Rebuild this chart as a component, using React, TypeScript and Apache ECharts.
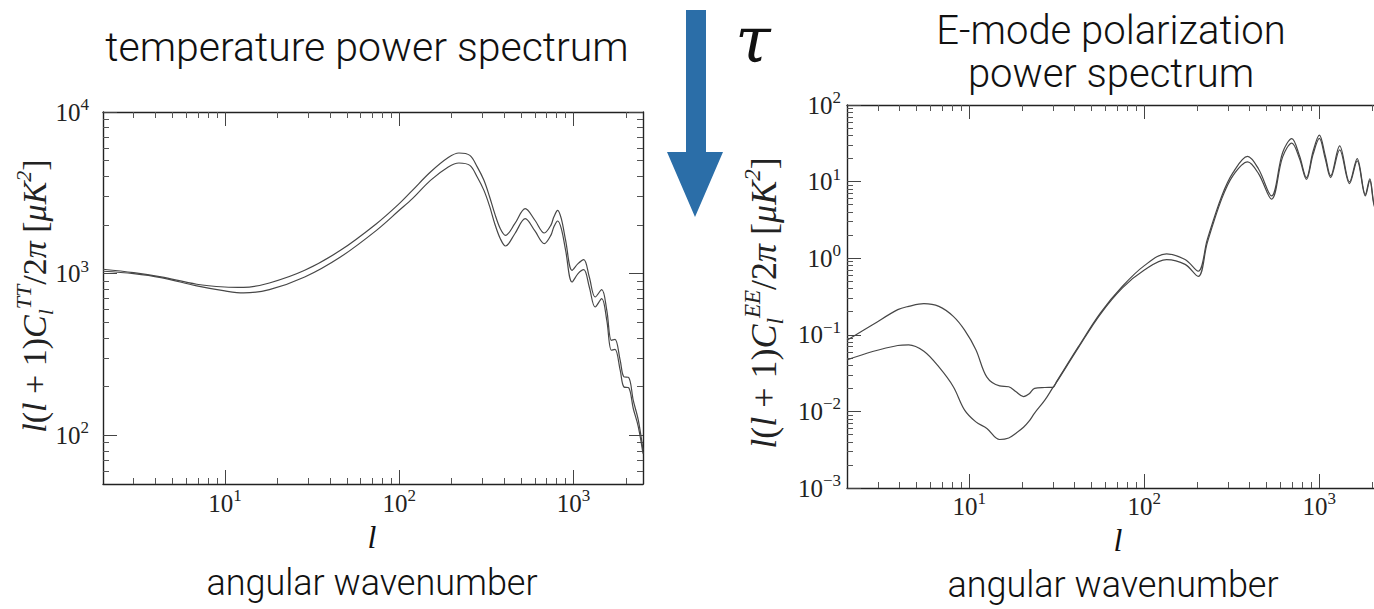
import React, { useEffect, useRef } from "react";
import * as echarts from "echarts";

// ---------- data ----------
const ttEll = [2, 3, 4.3, 6.9, 10, 12.8, 18, 28.7, 46, 74, 100, 119, 151, 191, 220, 254, 280, 306, 330, 353, 380, 407, 460, 528, 600, 679, 740, 770, 810, 850, 900, 980, 1060, 1143, 1230, 1330, 1449, 1550, 1647, 1727, 1850, 1944, 2067, 2200, 2350, 2500];
const ttHigh = [1065, 1015, 955, 860, 827, 822, 876, 1049, 1394, 2037, 2711, 3275, 4252, 5227, 5575, 5392, 4575, 3778, 2979, 2350, 1897, 1726, 2037, 2523, 2140, 1785, 1990, 2240, 2465, 2188, 1607, 1049, 1153, 1221, 953, 717, 796, 593, 387, 392, 291, 230, 228, 164, 124, 81];
const ttLow = [1035, 1000, 945, 840, 782, 760, 796, 953, 1267, 1853, 2465, 2910, 3778, 4575, 4838, 4677, 3963, 3275, 2607, 2037, 1644, 1483, 1766, 2188, 1837, 1535, 1726, 1944, 2118, 1900, 1394, 888, 1000, 1058, 827, 622, 700, 514, 336, 340, 253, 199, 197, 146, 113, 77];

const eeEll = [2, 2.8, 3.9, 4.5, 5.5, 6.7, 8.1, 9.4, 10.9, 12.6, 14.9, 16.8, 18.5, 20.4, 22, 23.6, 27, 30, 31.5, 42, 56, 75, 100, 134, 171, 203, 229, 277, 321, 389, 450, 533, 617, 696, 770, 844, 920, 1000, 1080, 1160, 1306, 1487, 1645, 1832, 1942, 2096, 2300, 2500];
const eeHigh = [0.085, 0.135, 0.213, 0.235, 0.255, 0.235, 0.174, 0.115, 0.064, 0.028, 0.0215, 0.021, 0.018, 0.0156, 0.017, 0.02, 0.0205, 0.0206, 0.0245, 0.07, 0.192, 0.43, 0.8, 1.14, 0.96, 0.676, 1.76, 6.5, 13.1, 21.3, 14.5, 6.5, 24, 36.5, 21.7, 11.3, 24.7, 40.5, 22, 11.9, 29.3, 9.9, 20, 6.8, 10.9, 4.6, 6, 2.5];
const eeLow = [0.047, 0.0605, 0.0725, 0.074, 0.061, 0.038, 0.021, 0.0104, 0.0073, 0.006, 0.0043, 0.0045, 0.0052, 0.0062, 0.0075, 0.0095, 0.014, 0.0204, 0.024, 0.068, 0.185, 0.41, 0.7, 0.96, 0.83, 0.58, 1.6, 6.0, 12.0, 18.1, 12.6, 5.9, 21, 31.8, 20, 10.7, 22.5, 36.6, 20, 11.3, 26, 9.4, 18.7, 6.5, 10.3, 4.4, 5.7, 2.4];

// ---------- ticks ----------
const ellMajor = [10, 100, 1000];
const ellMinor = [3, 4, 5, 6, 7, 8, 9, 20, 30, 40, 50, 60, 70, 80, 90, 200, 300, 400, 500, 600, 700, 800, 900, 2000];
const ttMajor = [100, 1000, 10000];
const ttMinor = [60, 70, 80, 90, 200, 300, 400, 500, 600, 700, 800, 900, 2000, 3000, 4000, 5000, 6000, 7000, 8000, 9000];
const eeMajor = [0.001, 0.01, 0.1, 1, 10, 100];
const eeMinor = [0.002, 0.003, 0.004, 0.005, 0.006, 0.007, 0.008, 0.009, 0.02, 0.03, 0.04, 0.05, 0.06, 0.07, 0.08, 0.09, 0.2, 0.3, 0.4, 0.5, 0.6, 0.7, 0.8, 0.9, 2, 3, 4, 5, 6, 7, 8, 9, 20, 30, 40, 50, 60, 70, 80, 90];

const SERIF = "'Liberation Serif', 'DejaVu Serif', serif";
const SANS = "Roboto, 'Liberation Sans', sans-serif";
const LINE = "#474747";

const labelRich = {
  b: { fontFamily: SERIF, fontSize: 25, lineHeight: 32, color: "#222" },
  s: { fontFamily: SERIF, fontSize: 17, lineHeight: 17, verticalAlign: "top", color: "#222" },
};

const powLabel = (v: number) => {
  const e = Math.round(Math.log10(v));
  return `{b|10}{s|${e < 0 ? "\u2212" + -e : e}}`;
};

function axisSet(dim: "x" | "y", gridIndex: number, min: number, max: number, majors: number[], minors: number[], margin: number) {
  const sides = dim === "x" ? ["bottom", "top"] : ["left", "right"];
  const out: any[] = [];
  sides.forEach((pos, si) => {
    const base = { type: "log", logBase: 10, gridIndex, min, max, position: pos, splitLine: { show: false }, silent: true };
    out.push({
      ...base,
      axisLine: { show: true, onZero: false, lineStyle: { color: "#222", width: 1.4 } },
      axisTick: { show: true, inside: true, length: 14, customValues: majors, lineStyle: { color: "#444", width: 1 } },
      axisLabel:
        si === 0
          ? { show: true, customValues: majors, formatter: powLabel, margin, fontFamily: SERIF, fontSize: 25, color: "#222", rich: labelRich }
          : { show: false },
    });
    out.push({
      ...base,
      axisLine: { show: false },
      axisTick: { show: true, inside: true, length: 6, customValues: minors, lineStyle: { color: "#555", width: 1 } },
      axisLabel: { show: false },
    });
  });
  return out;
}

const toPairs = (xs: number[], ys: number[]) => xs.map((x, i) => [x, ys[i]]);

function yTitle(x: number, y: number, sup: string, size: number) {
  const sub = Math.round(size * 0.64);
  return {
    type: "text",
    x,
    y,
    rotation: Math.PI / 2,
    style: {
      text: `{i|l}{r|(}{i|l}{r| + 1)}{i|C}{sb|l}{sp|${sup}}{r|/2}{i|\u03c0}{r| [}{i|\u03bcK}{sp|2}{r|]}`,
      align: "center",
      verticalAlign: "middle",
      rich: {
        i: { fontFamily: SERIF, fontStyle: "italic", fontSize: size, lineHeight: size + 10, fill: "#222" },
        r: { fontFamily: SERIF, fontSize: size, lineHeight: size + 10, fill: "#222" },
        sp: { fontFamily: SERIF, fontStyle: "italic", fontSize: sub, lineHeight: sub, verticalAlign: "top", fill: "#222" },
        sb: { fontFamily: SERIF, fontStyle: "italic", fontSize: sub, lineHeight: sub, verticalAlign: "bottom", fill: "#222" },
      },
    },
  };
}

function txt(x: number, y: number, text: string, font: string, extra: any = {}) {
  return { type: "text", x, y, style: { text, font, fill: "#111", align: "center", verticalAlign: "middle", ...extra } };
}

export default function App() {
  const ref = useRef<HTMLDivElement>(null);
  useEffect(() => {
    if (!ref.current) return;
    const chart = echarts.init(ref.current, undefined, { renderer: "svg" });
    const xAxis = [...axisSet("x", 0, 2, 2500, ellMajor, ellMinor, 3), ...axisSet("x", 1, 2, 2500, ellMajor, ellMinor, 2)];
    const yAxis = [...axisSet("y", 0, 50, 10000, ttMajor, ttMinor, 14), ...axisSet("y", 1, 0.001, 100, eeMajor, eeMinor, 6)];
    const line = (name: string, data: number[][], gi: number) => ({
      type: "line",
      name,
      xAxisIndex: gi * 4,
      yAxisIndex: gi * 4,
      data,
      smooth: 0.35,
      showSymbol: false,
      symbol: "none",
      lineStyle: { color: LINE, width: 1.2 },
      silent: true,
    });
    chart.setOption({
      animation: false,
      backgroundColor: "#ffffff",
      grid: [
        { left: 103, top: 112, width: 540, height: 372, containLabel: false, outerBoundsMode: "none" },
        { left: 847, top: 105, width: 542, height: 383, containLabel: false, outerBoundsMode: "none" },
      ],
      xAxis,
      yAxis,
      series: [
        line("TT high", toPairs(ttEll, ttHigh), 0),
        line("TT low", toPairs(ttEll, ttLow), 0),
        line("EE high", toPairs(eeEll, eeHigh), 1),
        line("EE low", toPairs(eeEll, eeLow), 1),
      ],
      graphic: [
        txt(367, 47, "temperature power spectrum", `300 41px ${SANS}`),
        txt(1111, 30, "E-mode polarization", `300 40px ${SANS}`),
        txt(1111, 73, "power spectrum", `300 40px ${SANS}`),
        txt(372, 583, "angular wavenumber", `300 36px ${SANS}`),
        txt(1113, 585, "angular wavenumber", `300 36px ${SANS}`),
        txt(372, 537, "l", `italic 32px ${SERIF}`),
        txt(1118, 540, "l", `italic 32px ${SERIF}`),
        txt(753, 40, "\u03c4", `italic 64px 'DejaVu Serif', serif`),
        {
          type: "polygon",
          shape: {
            points: [
              [686, 10],
              [706, 10],
              [706, 152],
              [723, 152],
              [695, 217],
              [667, 152],
              [686, 152],
            ],
          },
          style: { fill: "#2b6ea8" },
        },
        yTitle(34, 296, "TT", 34),
        yTitle(764, 303, "EE", 36),
      ],
    });
    return () => chart.dispose();
  }, []);
  return <div ref={ref} style={{ position: "absolute", left: 0, top: 0, width: 1374, height: 609, background: "#fff" }} />;
}
